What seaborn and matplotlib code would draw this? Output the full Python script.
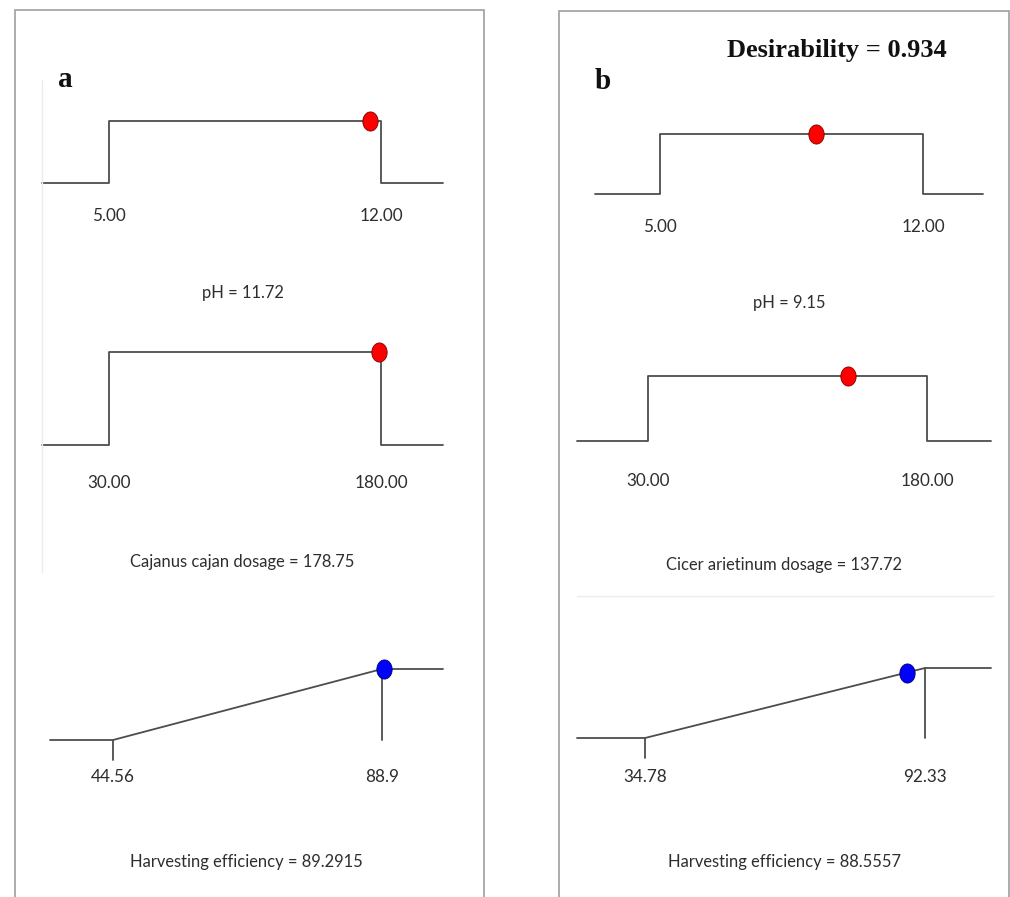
import numpy as np
import matplotlib
matplotlib.use("Agg")
import matplotlib.pyplot as plt
from matplotlib.patches import Rectangle
from matplotlib.lines import Line2D
import seaborn as sns

sns.set_theme(style="white")
plt.rcParams['font.family'] = ['Lato', 'DejaVu Sans']

# ---------------- data ----------------
panel_labels = ["a", "b"]
desirability_text = "Desirability = 0.934"

a_names = ["pH", "Cajanus cajan dosage", "Harvesting efficiency"]
a_low = [5.00, 30.00, 44.56]
a_high = [12.00, 180.00, 88.9]
a_value = [11.72, 178.75, 89.2915]
a_low_labels = ["5.00", "30.00", "44.56"]
a_high_labels = ["12.00", "180.00", "88.9"]
a_value_labels = ["11.72", "178.75", "89.2915"]

b_names = ["pH", "Cicer arietinum dosage", "Harvesting efficiency"]
b_low = [5.00, 30.00, 34.78]
b_high = [12.00, 180.00, 92.33]
b_value = [9.15, 137.72, 88.5557]
b_low_labels = ["5.00", "30.00", "34.78"]
b_high_labels = ["12.00", "180.00", "92.33"]
b_value_labels = ["9.15", "137.72", "88.5557"]

kinds = ["factor", "factor", "response"]

# ---------------- layout (pixels) ----------------
W, H, DPI = 1010, 897, 100
# px_left, px_lo, px_hi, px_right, py_low, py_high, tick_off, title_off
a_geom = [(42, 109, 381, 443, 183, 121, 33, 110),
          (42, 109, 381, 443, 445, 352, 38, 117),
          (50, 113, 382, 443, 740, 669, 37, 122)]
b_geom = [(595, 660, 923, 983, 194, 134, 33, 109),
          (577, 648, 927, 991, 441, 376, 40, 124),
          (577, 645, 925, 991, 738, 668, 39, 124)]

LINE = "#4d4d4d"
TXT = "#2e2e2e"
FS_TICK = 12.3
FS_TITLE = 11.9
PT = 72.0 / DPI  # points per pixel

fig = plt.figure(figsize=(W / DPI, H / DPI), dpi=DPI)
fig.patch.set_facecolor("white")

t = np.linspace(0, 2 * np.pi, 40)
ellipse = list(zip(0.8 * np.cos(t), np.sin(t)))


def draw(geom, lo, hi, val, lo_lab, hi_lab, name, vlab, kind):
    pl, plo, phi, pr, py0, py1, toff, ttoff = geom
    ax = fig.add_axes([pl / W, 1 - py0 / H, (pr - pl) / W, (py0 - py1) / H])
    s = (phi - plo) / (hi - lo)
    xmin = lo - (plo - pl) / s
    xmax = hi + (pr - phi) / s
    ax.set_xlim(xmin, xmax)
    ax.set_ylim(0, 1)
    ax.axis("off")
    kw = dict(color=LINE, linewidth=1.3, clip_on=False, sort=False,
              estimator=None, legend=False, ax=ax)
    if kind == "factor":
        sns.lineplot(x=[xmin, lo, lo, hi, hi, xmax], y=[0, 0, 1, 1, 0, 0], **kw)
        d = 1.0
        pc, ec = "#ff0000", "#7a0000"
    else:
        tick = 20.0 / (py0 - py1)
        sns.lineplot(x=[xmin, lo, hi, xmax], y=[0, 0, 1, 1], **kw)
        sns.lineplot(x=[hi, hi], y=[1, 0], **kw)
        sns.lineplot(x=[lo, lo], y=[0, -tick], **kw)
        d = float(np.clip((val - lo) / (hi - lo), 0, 1))
        pc, ec = "#0000ff", "#00006a"
    sns.scatterplot(x=[val], y=[d], marker=ellipse, s=190, color=pc,
                    edgecolor=ec, linewidth=0.6, zorder=5, clip_on=False,
                    legend=False, ax=ax)
    for xv, lab in [(lo, lo_lab), (hi, hi_lab)]:
        ax.annotate(lab, xy=(xv, 0), xycoords="data",
                    xytext=(0, -toff * PT), textcoords="offset points",
                    ha="center", va="center", fontsize=FS_TICK, color=TXT)
    ax.annotate(f"{name} = {vlab}", xy=(0.5, 0), xycoords="axes fraction",
                xytext=(0, -ttoff * PT), textcoords="offset points",
                ha="center", va="center", fontsize=FS_TITLE, color=TXT)


for i in range(3):
    draw(a_geom[i], a_low[i], a_high[i], a_value[i], a_low_labels[i],
         a_high_labels[i], a_names[i], a_value_labels[i], kinds[i])
    draw(b_geom[i], b_low[i], b_high[i], b_value[i], b_low_labels[i],
         b_high_labels[i], b_names[i], b_value_labels[i], kinds[i])

# panel frames
for (x0, y0, x1) in [(15, 10, 484), (559, 11, 1009)]:
    fig.add_artist(Rectangle((x0 / W, -0.02), (x1 - x0) / W, 1 - y0 / H + 0.02,
                             transform=fig.transFigure, fill=False,
                             edgecolor="#a6a6a6", linewidth=1.3))

# faint scan artefacts
fig.add_artist(Line2D([42 / W, 42 / W], [1 - 80 / H, 1 - 572 / H],
                      transform=fig.transFigure, color="#ececec", linewidth=1))
fig.add_artist(Line2D([577 / W, 993 / W], [1 - 596 / H, 1 - 596 / H],
                      transform=fig.transFigure, color="#ececec", linewidth=1))

serif = ["Liberation Serif", "DejaVu Serif"]
fig.text(65 / W, 1 - 87 / H, panel_labels[0], ha="center", va="baseline",
         fontsize=21, fontweight="bold", family=serif, color="#111111")
fig.text(603 / W, 1 - 89 / H, panel_labels[1], ha="center", va="baseline",
         fontsize=21, fontweight="bold", family=serif, color="#111111")
fig.text(837 / W, 1 - 57 / H, desirability_text, ha="center", va="baseline",
         fontsize=19, fontweight="bold", family=serif, color="#111111")

fig.savefig("out.png", dpi=DPI, facecolor="white")
